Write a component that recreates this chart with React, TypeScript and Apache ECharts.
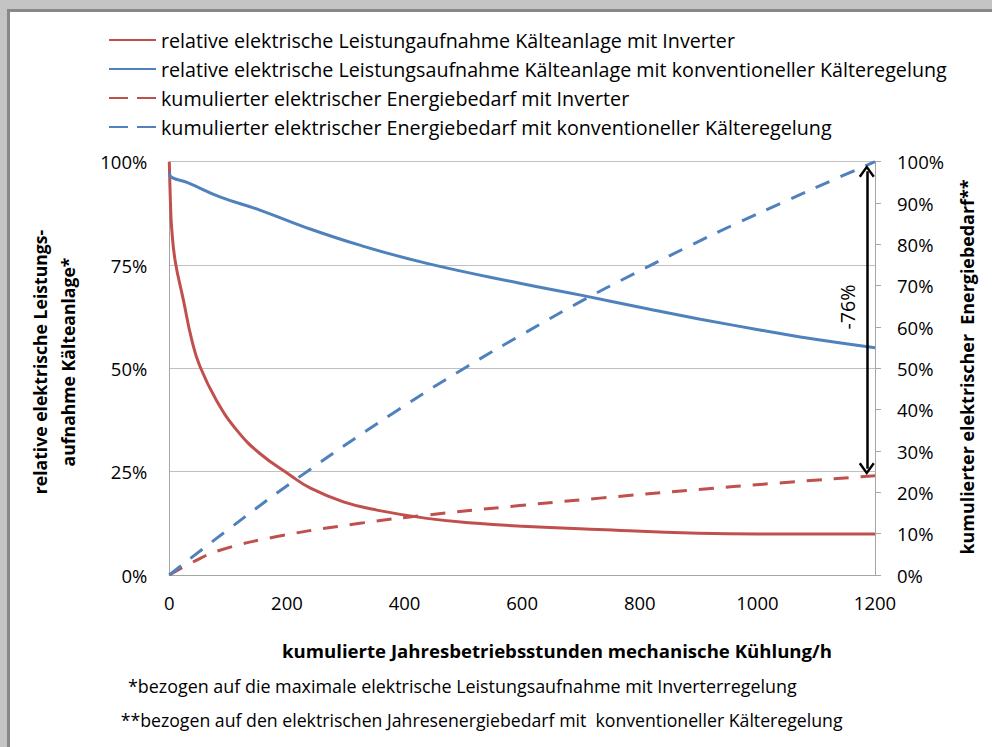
import React, { useEffect, useRef } from "react";
import * as echarts from "echarts";

// ---- data ----
const seriesNames = [
  "relative elektrische Leistungaufnahme Kälteanlage mit Inverter",
  "relative elektrische Leistungsaufnahme Kälteanlage mit konventioneller Kälteregelung",
  "kumulierter elektrischer Energiebedarf mit Inverter",
  "kumulierter elektrischer Energiebedarf mit konventioneller Kälteregelung",
];

const invPowerHours = [0, 2, 4, 10, 24, 38, 52, 80, 115, 154, 205, 240, 296, 353, 438, 523, 600, 730, 900, 1000, 1100, 1200];
const invPowerPct = [100, 90, 84, 76, 66.5, 57, 50.5, 42.3, 35, 29.4, 24.2, 21, 17.7, 15.7, 13.7, 12.5, 11.8, 11, 10.1, 9.9, 9.9, 9.9];

const convPowerHours = [0, 4, 30, 86, 154, 228, 324, 438, 596, 704, 817, 903, 1004, 1073, 1200];
const convPowerPct = [97.3, 96.2, 95, 91.5, 88.3, 84.3, 79.8, 75.4, 70.6, 67.6, 64.3, 61.9, 59.3, 57.6, 55];

const invEnergyHours = [0, 41, 86, 183, 324, 438, 596, 732, 959, 1200];
const invEnergyPct = [0, 3.2, 6, 9.3, 12.5, 14.5, 16.8, 18.6, 21.4, 24];

const convEnergyHours = [0, 100, 222, 381, 506, 600, 700, 789, 880, 959, 1050, 1129, 1200];
const convEnergyPct = [0, 11, 23.8, 39.2, 50.4, 58.2, 66.2, 72.8, 79.3, 84.7, 90.6, 95.6, 100];

const arrowHours = 1186;
const arrowTopPct = 97.7;
const arrowBottomPct = 25.7;
const savingLabel = "-76%";

const xTitle = "kumulierte Jahresbetriebsstunden mechanische Kühlung/h";
const leftTitleLines = ["relative elektrische Leistungs-", "aufnahme Kälteanlage*"];
const rightTitle = "kumulierter elektrischer  Energiebedarf**";
const footnote1 = "*bezogen auf die maximale elektrische Leistungsaufnahme mit Inverterregelung";
const footnote2 = "**bezogen auf den elektrischen Jahresenergiebedarf mit  konventioneller Kälteregelung";

const RED = "#C0504D";
const BLUE = "#4F81BD";
const FONT = "Open Sans";

const zip = (h: number[], p: number[]) => h.map((x, i) => [x, p[i]]);

export default function App() {
  const ref = useRef<HTMLDivElement>(null);
  useEffect(() => {
    document.body.style.margin = "0";
    document.documentElement.style.overflow = "hidden";
    const canvas = document.createElement("canvas");
    const ctx = canvas.getContext("2d")!;
    const fit = (text: string, weight: string, width: number) => {
      ctx.font = `${weight} 100px "${FONT}"`;
      const w = ctx.measureText(text).width;
      return Math.round((1000 * width) / w) / 10;
    };
    const legSize = fit(seriesNames[1], "normal", 788);
    const axSize = fit("100%", "normal", 47);
    const xTitleSize = fit(xTitle, "bold", 549);
    const leftTitleSize = fit(leftTitleLines[0], "bold", 265);
    const rightTitleSize = fit(rightTitle, "bold", 375);
    const fn1Size = fit(footnote1, "normal", 670);
    const fn2Size = fit(footnote2, "normal", 722);
    const labSize = fit(savingLabel, "normal", 45);

    const chart = echarts.init(ref.current!, null, { renderer: "svg" });
    const chevron = "path://M8,0 L16,11 L14,12.5 L8,4 L2,12.5 L0,11 Z";
    const lineSeries = (i: number, h: number[], p: number[], color: string, dashed: boolean, axis: number) => ({
      name: seriesNames[i],
      type: "line",
      yAxisIndex: axis,
      data: zip(h, p),
      symbol: "none",
      showSymbol: false,
      smooth: 0.45,
      lineStyle: { color, width: 3, type: dashed ? [15, 12] : "solid", cap: "butt" },
      itemStyle: { color },
      emphasis: { disabled: true },
    });
    const blueDashed: any = lineSeries(3, convEnergyHours, convEnergyPct, BLUE, true, 1);
    blueDashed.markLine = {
      silent: true,
      symbol: [chevron, chevron],
      symbolSize: [16, 12.5],
      label: { show: false },
      lineStyle: { color: "#000", width: 2.5, type: "solid" },
      emphasis: { disabled: true },
      data: [[{ coord: [arrowHours, arrowTopPct] }, { coord: [arrowHours, arrowBottomPct] }]],
    };
    const axisLabel = (fmt: any) => ({ fontSize: axSize, color: "#000", fontFamily: FONT, formatter: fmt });
    chart.setOption({
      animation: false,
      textStyle: { fontFamily: FONT },
      grid: { left: 169.3, right: 117, top: 161.7, bottom: 172 },
      legend: {
        orient: "vertical",
        left: 108,
        top: 30,
        padding: 0,
        itemWidth: 47,
        itemHeight: 20,
        itemGap: 9,
        selectedMode: false,
        itemStyle: { opacity: 0 },
        textStyle: { fontSize: legSize, color: "#000", fontFamily: FONT, lineHeight: 20 },
        data: [
          { name: seriesNames[0] },
          { name: seriesNames[1] },
          { name: seriesNames[2], lineStyle: { type: [19, 9] } },
          { name: seriesNames[3], lineStyle: { type: [19, 9] } },
        ],
      },
      xAxis: {
        type: "value",
        min: 0,
        max: 1200,
        interval: 200,
        axisLine: { show: true, lineStyle: { color: "#a6a6a6", width: 1 } },
        axisTick: { show: false },
        splitLine: { show: false },
        axisLabel: { ...axisLabel((v: number) => String(v)), margin: 18 },
      },
      yAxis: [
        {
          type: "value",
          min: 0,
          max: 100,
          interval: 25,
          axisLine: { show: true, lineStyle: { color: "#a6a6a6", width: 1 } },
          axisTick: { show: false },
          splitLine: { show: true, lineStyle: { color: "#c0c0c0", width: 1 } },
          axisLabel: { ...axisLabel("{value}%"), margin: 22 },
        },
        {
          type: "value",
          position: "right",
          min: 0,
          max: 100,
          interval: 10,
          axisLine: { show: true, lineStyle: { color: "#a6a6a6", width: 1 } },
          axisTick: { show: true, length: 6, lineStyle: { color: "#a6a6a6" } },
          splitLine: { show: false },
          axisLabel: { ...axisLabel("{value}%"), margin: 22 },
        },
      ],
      series: [
        lineSeries(0, invPowerHours, invPowerPct, RED, false, 0),
        lineSeries(1, convPowerHours, convPowerPct, BLUE, false, 0),
        lineSeries(2, invEnergyHours, invEnergyPct, RED, true, 1),
        blueDashed,
      ],
      graphic: [
        { type: "text", x: 557, y: 650, style: { text: xTitle, fontSize: xTitleSize, fontWeight: "bold", fontFamily: FONT, fill: "#000", align: "center", verticalAlign: "middle" } },
        { type: "text", x: 54, y: 362, rotation: Math.PI / 2, style: { text: leftTitleLines.join("\n"), fontSize: leftTitleSize, fontWeight: "bold", fontFamily: FONT, fill: "#000", align: "center", verticalAlign: "middle", lineHeight: 28 } },
        { type: "text", x: 967, y: 367, rotation: Math.PI / 2, style: { text: rightTitle, fontSize: rightTitleSize, fontWeight: "bold", fontFamily: FONT, fill: "#000", align: "center", verticalAlign: "middle" } },
        { type: "text", x: 847, y: 307, rotation: Math.PI / 2, style: { text: savingLabel, fontSize: labSize, fontFamily: FONT, fill: "#000", align: "center", verticalAlign: "middle" } },
        { type: "text", x: 128, y: 686, style: { text: footnote1, fontSize: fn1Size, fontFamily: FONT, fill: "#000", align: "left", verticalAlign: "middle" } },
        { type: "text", x: 120.7, y: 720, style: { text: footnote2, fontSize: fn2Size, fontFamily: FONT, fill: "#000", align: "left", verticalAlign: "middle" } },
      ],
    });
    return () => chart.dispose();
  }, []);
  return (
    <div style={{ position: "absolute", left: 0, top: 0, width: 992, height: 747, background: "#c4c4c4", overflow: "hidden" }}>
      <div style={{ position: "absolute", left: 7, top: 9, right: 0, bottom: 0, background: "#888888" }} />
      <div style={{ position: "absolute", left: 10, top: 12, right: 0, bottom: 0, background: "#ffffff" }} />
      <div ref={ref} style={{ position: "absolute", left: 0, top: 0, width: 992, height: 747 }} />
    </div>
  );
}
